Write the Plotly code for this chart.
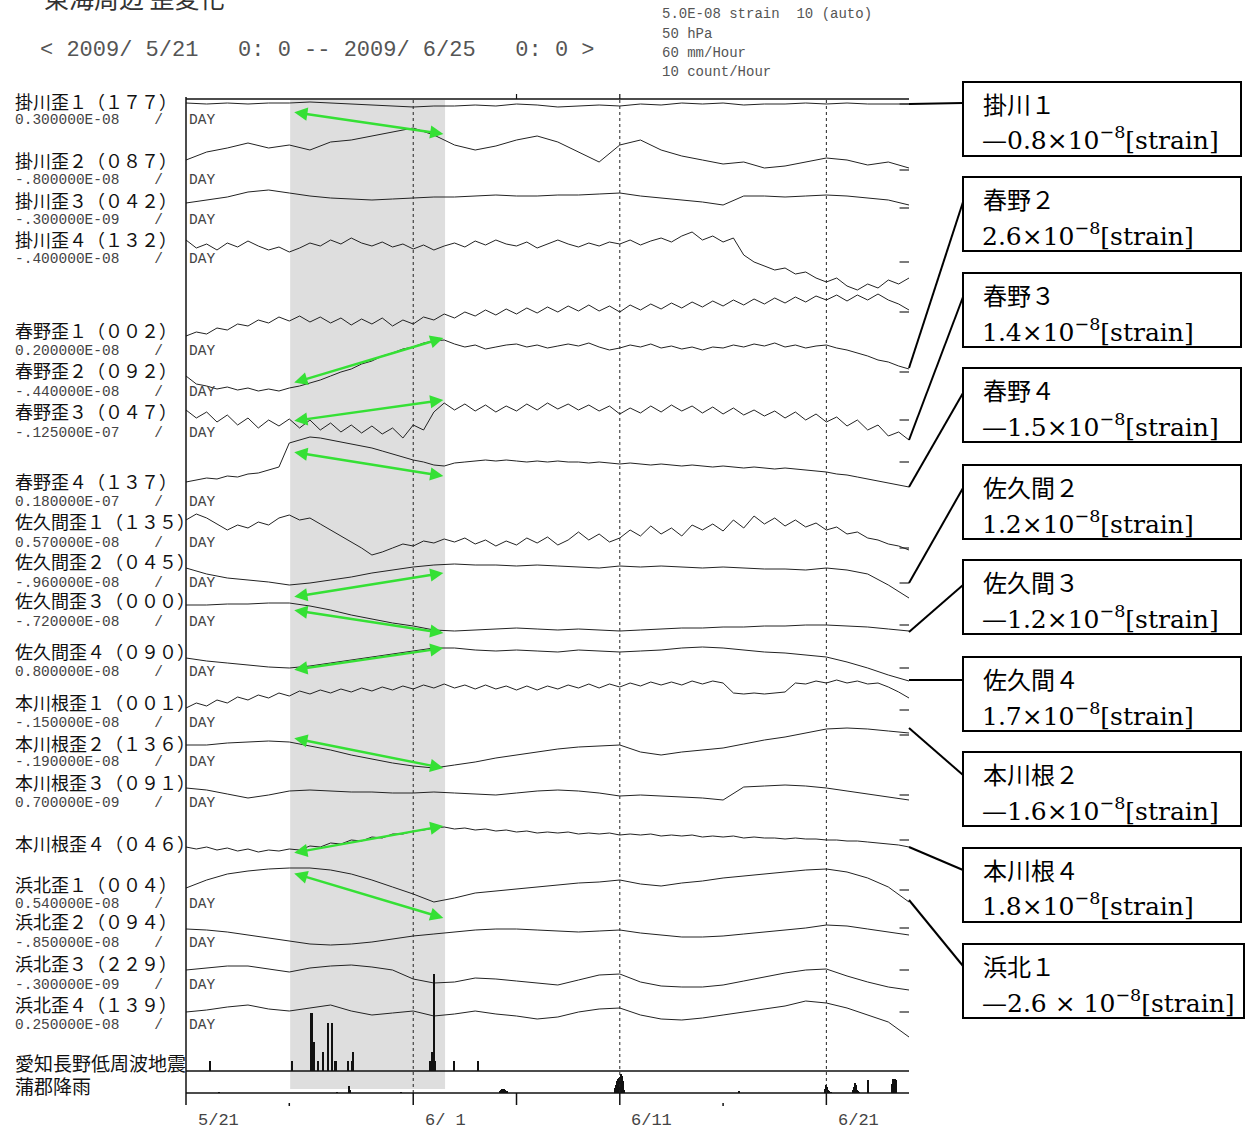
import pandas as pd
import plotly.graph_objects as go

W, H = 1247, 1133
X_LEFT, X_RIGHT = 186, 909          # plot area in px
START, END = "2009-05-21", "2009-06-25"

# ---------------------------------------------------------------------------
# Strain records (relative readings, one unit per display step, positive = down)
# ---------------------------------------------------------------------------
kakegawa1 = [0, 1, 0, 1, 0, 0, -1, 0, 1, 2, 3, 4, 3, 3, 2, 3, 1, 2, 4, 3, 2, 3, 1, 2, 0, 1, 0, 2, 1, 1,
             0, 1, 0, 1, 1, 1]
kakegawa2 = [0, -8, -12, -17, -12, -15, -10, -18, -20, -24, -28, -32, -25, -15, -10, -14, -20, -24, -18, -8,
             2, -15, -20, -10, -4, 0, 4, 2, 8, 6, 2, -2, 0, 5, 2, 8]
kakegawa3 = [0, -3, -6, -11, -13, -10, -7, -5, -4, -3, -4, -5, -6, -6, -7, -8, -7, -7, -8, -8,
             -9, -10, -7, -5, -3, -1, 2, -7, -7, -6, -7, -8, -7, -5, -3, 2]
kakegawa4 = [0, 8, 4, 10, 3, 7, 1, 6, 10, 7, 12, 8, 3, 6, 0, 4, -2, 3, 6, 2, 7, 4, 9, 5, 10, 6, 3, 7, 1, 5,
             0, 4, 6, 2, 8, 4, 0, 4, 7, 3, 6, 2, 4, 0, 5, 1, -2, 2, -4, -8, 0, -4, 2, -2, 15, 22, 26, 30,
             28, 34, 32, 38, 42, 38, 46, 50, 44, 48, 40, 44, 38]
haruno1 = [1, -3, -1, -7, -5, -11, -9, -15, -12, -18, -14, -19, -13, -18, -12, -17, -10, -16, -11, -17,
           -9, -15, -11, -18, -15, -21, -17, -23, -19, -25, -20, -26, -21, -27, -22, -28, -23, -29, -24, -30,
           -24, -29, -23, -30, -25, -31, -26, -32, -27, -33, -28, -34, -29, -35, -30, -36, -31, -37, -32, -38,
           -33, -39, -35, -40, -34, -40, -35, -41, -35, -31, -25]
haruno2 = [-2, 6, 8, 11, 9, 12, 10, 13, 11, 13, 10, 8, 5, 2, -2, -6, -9, -14, -17, -22,
           -25, -29, -31, -35, -37, -38, -34, -31, -33, -29, -31, -33, -34, -31, -33, -30, -32, -34, -32, -35,
           -31, -28, -30, -33, -31, -34, -30, -32, -29, -31, -28, -31, -30, -33, -31, -34, -32, -35, -31, -33,
           -30, -32, -33, -30, -28, -25, -22, -18, -16, -12, -9]
haruno3 = [-2, 6, 0, 10, 3, 13, 6, 16, 8, 14, 7, 16, 8, 18, 11, 20, 13, 21, 14, 22,
           16, 26, 13, 18, 0, -9, -2, -8, -1, -7, 0, -6, -1, -8, -2, -9, -3, -8, -2, -7,
           -1, -6, 2, -4, 1, -6, 0, -7, -1, -6, 1, -5, 2, -4, 3, -2, 4, -1, 6, 0,
           8, 2, 10, 5, 14, 8, 18, 13, 24, 20, 28]
haruno4 = [0, -2, -4, -3, -6, -5, -8, -9, -12, -15, -39, -42, -45, -44, -42, -40, -38, -36, -34, -31,
           -28, -25, -22, -20, -17, -16, -19, -20, -21, -22, -21, -22, -21, -20, -21, -20, -21, -20, -20, -19,
           -20, -19, -18, -19, -18, -17, -18, -17, -16, -17, -16, -15, -16, -15, -14, -15, -14, -13, -14, -13,
           -12, -11, -10, -8, -7, -5, -3, -1, 1, 3, 5]
sakuma1 = [0, -6, -2, 4, 10, 5, 8, 2, 5, -2, -5, 0, -2, 4, 10, 16, 22, 28, 35, 32,
           28, 24, 26, 21, 23, 19, 22, 18, 24, 20, 26, 21, 25, 18, 23, 17, 25, 20, 12, 20,
           14, 22, 18, 10, 16, 6, 14, 8, 16, 5, 10, 4, 11, 0, 8, -4, 4, -2, 6, 0,
           7, 3, 10, 7, 14, 12, 18, 20, 24, 26, 30]
sakuma2 = [0, 6, 10, 12, 14, 17, 15, 12, 9, 5, 2, -1, -3, -4, -3, -3, -2, -3, -2, -1,
           0, -2, -1, -2, -1, 0, -1, 0, 1, 1, 2, 0, 2, 6, 17, 30]
sakuma3 = [0, 0, -1, -1, -2, -2, 1, 5, 10, 14, 18, 21, 25, 26, 25, 24, 23, 24, 25, 24,
           25, 26, 25, 24, 23, 23, 22, 22, 21, 21, 20, 20, 21, 22, 24, 26]
sakuma4 = [0, 3, 5, 7, 9, 10, 8, 5, 2, -1, -4, -7, -10, -10, -8, -7, -8, -7, -6, -8,
           -7, -6, -7, -8, -10, -11, -10, -8, -6, -5, -3, -1, 4, 10, 17, 23]
honkawane1 = [0, -5, -2, -8, -5, -11, -8, -13, -10, -15, -12, -17, -14, -18, -15, -19, -16, -20, -17, -21,
              -18, -22, -19, -23, -20, -24, -20, -23, -19, -23, -19, -22, -18, -22, -18, -22, -19, -23, -20, -24,
              -20, -24, -21, -25, -22, -26, -23, -26, -23, -27, -24, -27, -25, -15, -14, -15, -14, -15, -16, -25,
              -24, -27, -25, -28, -25, -27, -24, -25, -21, -16, -10]
honkawane2 = [0, 0, -2, -3, -4, -3, 1, 5, 10, 14, 18, 21, 23, 20, 17, 13, 10, 7, 4, 2,
              1, 0, 7, 10, 7, 5, 3, -1, -5, -8, -12, -16, -17, -16, -14, -12]
honkawane3 = [0, 2, 6, 10, 7, 3, 2, 3, 4, 4, 5, 5, 4, 5, 6, 7, 5, 3, 2, 3,
              5, 8, 7, 8, 9, 10, 12, -1, -2, -3, -2, 0, 3, 6, 9, 12]
honkawane4 = [0, 2, 0, 3, 1, 4, 2, 5, 3, 4, 2, 3, -1, 0, -4, -3, -7, -6, -10, -9,
              -13, -13, -16, -17, -19, -20, -18, -19, -17, -18, -16, -17, -15, -16, -14, -15, -14, -15, -13, -14,
              -13, -14, -12, -13, -12, -13, -11, -12, -11, -12, -10, -11, -10, -11, -9, -10, -9, -9, -8, -9,
              -8, -8, -7, -7, -6, -6, -5, -4, -3, -2, 0]
hamakita1 = [0, -8, -14, -17, -19, -20, -20, -18, -14, -8, -1, 6, 14, 10, 5, 3, 1, -1, -3, -5,
             -6, -8, -4, -2, -5, -7, -10, -12, -14, -16, -18, -19, -16, -10, -1, 14]
hamakita2 = [0, 1, 3, 6, 9, 12, 15, 16, 15, 13, 10, 7, 5, 3, 1, 0, 0, 1, 2, 3,
             2, 1, 4, 6, 8, 8, 7, 5, 3, 1, -1, -4, -3, 0, 3, 6]
hamakita3 = [0, -2, -4, -4, -1, 2, -2, -4, -5, -3, 0, 9, 13, 12, 8, 9, 11, 13, 15, 10,
             5, 4, 12, 16, 17, 17, 15, 11, 7, 3, 0, -1, 6, 12, 17, 20]
hamakita4 = [0, -2, -5, -7, -3, -1, -4, -7, -1, 3, 1, -1, 4, 2, -1, 2, 4, 7, 5, 0,
             -3, -4, 3, 7, 8, 6, 3, 0, -3, -6, -11, -9, -4, 3, 10, 25]

series = [kakegawa1, kakegawa2, kakegawa3, kakegawa4,
          haruno1, haruno2, haruno3, haruno4,
          sakuma1, sakuma2, sakuma3, sakuma4,
          honkawane1, honkawane2, honkawane3, honkawane4,
          hamakita1, hamakita2, hamakita3, hamakita4]

channel_names = ["掛川歪１（１７７）", "掛川歪２（０８７）", "掛川歪３（０４２）", "掛川歪４（１３２）",
                 "春野歪１（００２）", "春野歪２（０９２）", "春野歪３（０４７）", "春野歪４（１３７）",
                 "佐久間歪１（１３５）", "佐久間歪２（０４５）", "佐久間歪３（０００）", "佐久間歪４（０９０）",
                 "本川根歪１（００１）", "本川根歪２（１３６）", "本川根歪３（０９１）", "本川根歪４（０４６）",
                 "浜北歪１（００４）", "浜北歪２（０９４）", "浜北歪３（２２９）", "浜北歪４（１３９）"]
trend_rates = ["0.300000E-08", "-.800000E-08", "-.300000E-09", "-.400000E-08",
               "0.200000E-08", "-.440000E-08", "-.125000E-07", "0.180000E-07",
               "0.570000E-08", "-.960000E-08", "-.720000E-08", "0.800000E-08",
               "-.150000E-08", "-.190000E-08", "0.700000E-09", "",
               "0.540000E-08", "-.850000E-08", "-.300000E-09", "0.250000E-08"]
# reference level marks at the right edge of each record
ref_levels = [1, 10, 5, 22, -23, -6, 8, -20, 28, 15, 20, 10, 2, -10, 7, -7, 2, -1, 0, 0]

# Low-frequency tremor counts (count/hour)
quake_time = ["2009-05-22 04:00", "2009-05-26 03:00", "2009-05-27 01:00", "2009-05-27 02:00",
              "2009-05-27 03:00", "2009-05-27 05:00", "2009-05-27 10:00", "2009-05-27 15:00",
              "2009-05-27 16:00", "2009-05-27 21:00", "2009-05-28 02:00", "2009-05-28 05:00",
              "2009-05-28 06:00", "2009-05-28 21:00", "2009-05-29 01:00", "2009-05-29 02:00",
              "2009-06-01 20:00", "2009-06-01 22:00", "2009-06-02 00:00", "2009-06-02 01:00",
              "2009-06-03 00:00", "2009-06-04 04:00"]
quake_count = [1, 1, 3, 6, 6, 3, 1, 2, 1, 5, 5, 1, 1, 1, 1, 2, 1, 2, 10, 1, 1, 1]

# Hourly rainfall at Gamagori (mm/hour)
rain_time = ["2009-05-22 14:00", "2009-05-28 07:00", "2009-05-28 21:00", "2009-05-28 22:00",
             "2009-05-28 23:00", "2009-05-31 10:00",
             "2009-06-05 05:00", "2009-06-05 06:00", "2009-06-05 07:00", "2009-06-05 08:00",
             "2009-06-05 09:00", "2009-06-05 10:00", "2009-06-05 11:00", "2009-06-05 12:00",
             "2009-06-05 13:00",
             "2009-06-10 18:00", "2009-06-10 19:00", "2009-06-10 20:00", "2009-06-10 21:00",
             "2009-06-10 22:00", "2009-06-10 23:00", "2009-06-11 00:00", "2009-06-11 01:00",
             "2009-06-11 02:00", "2009-06-11 03:00", "2009-06-11 04:00", "2009-06-11 05:00",
             "2009-06-16 19:00",
             "2009-06-20 23:00", "2009-06-21 00:00", "2009-06-21 01:00", "2009-06-21 02:00",
             "2009-06-21 03:00", "2009-06-21 04:00", "2009-06-21 05:00",
             "2009-06-22 07:00", "2009-06-22 08:00", "2009-06-22 09:00", "2009-06-22 10:00",
             "2009-06-22 11:00", "2009-06-22 12:00", "2009-06-22 13:00", "2009-06-22 14:00",
             "2009-06-23 00:00",
             "2009-06-24 04:00", "2009-06-24 05:00", "2009-06-24 06:00", "2009-06-24 07:00",
             "2009-06-24 08:00", "2009-06-24 09:00"]
rain_mm = [1, 1, 7, 3, 2, 1,
           2, 3, 4, 4, 4, 3, 3, 2, 2,
           3, 5, 8, 12, 14, 15, 16, 18, 19, 17, 12, 3,
           2,
           4, 8, 6, 3, 2, 1, 1,
           3, 6, 10, 8, 5, 3, 2, 1,
           13,
           9, 13, 14, 14, 14, 13]

# Strain changes over the tremor episode (×1e-8 strain)
change_names = ["掛川１", "春野２", "春野３", "春野４", "佐久間２", "佐久間３", "佐久間４", "本川根２", "本川根４", "浜北１"]
change_values = [-0.8, 2.6, 1.4, -1.5, 1.2, -1.2, 1.7, -1.6, 1.8, -2.6]

# ---------------------------------------------------------------------------
# Layout parameters (pixel positions)
# ---------------------------------------------------------------------------
centers = [103, 160, 203, 240, 335, 378, 412, 482, 520, 568, 605, 658, 708, 745, 788, 847, 888, 929, 970, 1012]
name_y = [101, 160, 200, 239, 330, 370, 411, 481, 521, 561, 600, 651, 702, 743, 782, 843, 884, 921, 963, 1004]
rate_y = [120, 180, 220, 259, 351, 392, 433, 502, 543, 583, 622, 672, 723, 762, 803, 0, 904, 943, 985, 1025]
HALF = 60

change_trace = [0, 5, 6, 7, 9, 10, 11, 13, 15, 16]
change_start = [9, 5, 9, -30, 29, 5, 12, -7, 6, -15]
change_gain = [27.5, 17.3, 15.0, 16.0, 20.0, 19.2, 12.9, 18.8, 15.0, 17.3]
episode_from, episode_to = "2009-05-26 04:00", "2009-06-02 11:00"

box_top = [82, 177, 273, 368, 465, 560, 657, 752, 848, 944]
box_attach = [103, 202, 297, 393, 488, 585, 680, 775, 870, 966]
trace_end = [104, 368, 440, 487, 583, 632, 680, 728, 847, 900]
BOX_LEFT, BOX_RIGHT, BOX_H = 963, 1241, 74


def py(p):
    return 1 - p / H


def pxf(p):
    return p / W


fig = go.Figure()
layout_axes = {}
for i, (vals, yc) in enumerate(zip(series, centers), start=1):
    key = "yaxis" if i == 1 else f"yaxis{i}"
    ref = "y" if i == 1 else f"y{i}"
    layout_axes[key] = dict(domain=[py(yc + HALF), py(yc - HALF)], range=[HALF, -HALF],
                            visible=False, anchor="x", fixedrange=True)
    xs = pd.date_range(START, END, periods=len(vals))
    fig.add_trace(go.Scatter(x=xs, y=vals, mode="lines", xaxis="x", yaxis=ref,
                             line=dict(color="#222", width=1),
                             hoverinfo="skip", showlegend=False))
    fig.add_trace(go.Scatter(x=["2009-06-24 13:00", END], y=[ref_levels[i - 1]] * 2,
                             mode="lines", xaxis="x", yaxis=ref,
                             line=dict(color="#222", width=1.2),
                             hoverinfo="skip", showlegend=False))

# tremor counts and rainfall panels
layout_axes["yaxis21"] = dict(domain=[py(1071), py(951)], range=[0, 12.4], visible=False,
                              anchor="x", fixedrange=True)
layout_axes["yaxis22"] = dict(domain=[py(1093), py(1071)], range=[0, 22], visible=False,
                              anchor="x", fixedrange=True)
fig.add_trace(go.Bar(x=quake_time, y=quake_count, xaxis="x", yaxis="y21",
                     width=3.6e6 * 1.8, marker=dict(color="#111", line=dict(width=0)),
                     hoverinfo="skip", showlegend=False))
fig.add_trace(go.Bar(x=rain_time, y=rain_mm, xaxis="x", yaxis="y22",
                     width=3.6e6 * 1.25, marker=dict(color="#111", line=dict(width=0)),
                     hoverinfo="skip", showlegend=False))

shapes = []
# tremor episode shading
shapes.append(dict(type="rect", xref="x", yref="paper", x0="2009-05-26 01:00", x1="2009-06-02 13:00",
                   y0=py(1089), y1=py(100), fillcolor="#dedede", line=dict(width=0), layer="below"))
# frame lines
line_k = dict(color="#111", width=1.5)
shapes.append(dict(type="line", xref="paper", yref="paper", x0=pxf(X_LEFT), x1=pxf(X_LEFT),
                   y0=py(1105), y1=py(97), line=line_k))
for yy in (99, 1071, 1093):
    shapes.append(dict(type="line", xref="paper", yref="paper", x0=pxf(X_LEFT), x1=pxf(X_RIGHT),
                       y0=py(yy), y1=py(yy), line=line_k))
# dotted day markers
for d in ("2009-06-01", "2009-06-11", "2009-06-21"):
    shapes.append(dict(type="line", xref="x", yref="paper", x0=d, x1=d, y0=py(1093), y1=py(99),
                       line=dict(color="#222", width=1, dash="dot")))
# bottom ticks
for d in ("2009-06-01", "2009-06-06", "2009-06-11", "2009-06-21"):
    shapes.append(dict(type="line", xref="x", yref="paper", x0=d, x1=d, y0=py(1105), y1=py(1093),
                       line=dict(color="#111", width=1.5)))
for d in ("2009-05-26", "2009-06-16"):
    shapes.append(dict(type="line", xref="x", yref="paper", x0=d, x1=d, y0=py(1106), y1=py(1103),
                       line=dict(color="#111", width=1.5)))
# top ticks
for d in ("2009-06-06", "2009-06-11"):
    shapes.append(dict(type="line", xref="x", yref="paper", x0=d, x1=d, y0=py(99), y1=py(94),
                       line=dict(color="#111", width=1.2)))

# result boxes and leader lines
for k, top in enumerate(box_top):
    right = BOX_RIGHT + (3 if k == len(box_top) - 1 else 0)
    shapes.append(dict(type="rect", xref="paper", yref="paper", x0=pxf(BOX_LEFT), x1=pxf(right),
                       y0=py(top + BOX_H), y1=py(top), line=dict(color="#000", width=2),
                       fillcolor="rgba(0,0,0,0)"))
    shapes.append(dict(type="line", xref="paper", yref="paper", x0=pxf(X_RIGHT), x1=pxf(BOX_LEFT),
                       y0=py(trace_end[k]), y1=py(box_attach[k]), line=dict(color="#000", width=2)))

annotations = []
# title and period
annotations.append(dict(text="東海周辺 歪変化", x=pxf(42), y=py(-3), xref="paper", yref="paper",
                        xanchor="left", yanchor="middle", showarrow=False,
                        font=dict(family="Noto Sans CJK JP", size=25, color="#333")))
annotations.append(dict(text="< 2009/ 5/21   0: 0 -- 2009/ 6/25   0: 0 >", x=pxf(38), y=py(50),
                        xref="paper", yref="paper", xanchor="left", yanchor="middle", showarrow=False,
                        font=dict(family="Liberation Mono", size=22, color="#555")))
for txt, yy in zip(["5.0E-08 strain  10 (auto)", "50 hPa", "60 mm/Hour", "10 count/Hour"], [14, 34, 53, 72]):
    annotations.append(dict(text=txt, x=pxf(660), y=py(yy), xref="paper", yref="paper",
                            xanchor="left", yanchor="middle", showarrow=False,
                            font=dict(family="Liberation Mono", size=14, color="#555")))

# channel labels
for name, ny, rate, ry in zip(channel_names, name_y, trend_rates, rate_y):
    annotations.append(dict(text=name, x=pxf(13), y=py(ny), xref="paper", yref="paper",
                            xanchor="left", yanchor="middle", showarrow=False,
                            font=dict(family="Noto Sans CJK JP", size=18, color="#111")))
    if rate:
        annotations.append(dict(text=f"{rate:<12}    /   DAY", x=pxf(13), y=py(ry), xref="paper", yref="paper",
                                xanchor="left", yanchor="middle", showarrow=False,
                                font=dict(family="Liberation Mono", size=14.5, color="#444")))
for txt, yy in [("愛知長野低周波地震", 1062), ("蒲郡降雨", 1085)]:
    annotations.append(dict(text=txt, x=pxf(13), y=py(yy), xref="paper", yref="paper",
                            xanchor="left", yanchor="middle", showarrow=False,
                            font=dict(family="Noto Sans CJK JP", size=19, color="#111")))

# date labels
for d, txt in [("2009-05-21", "5/21"), ("2009-06-01", "6/ 1"), ("2009-06-11", "6/11"), ("2009-06-21", "6/21")]:
    annotations.append(dict(text=txt, x=d, y=py(1120), xref="x", yref="paper", xshift=32,
                            xanchor="center", yanchor="middle", showarrow=False,
                            font=dict(family="Liberation Mono", size=17, color="#444")))

# green change arrows, length set by the stated strain change
for k, ti in enumerate(change_trace):
    ref = "y" if ti == 0 else f"y{ti + 1}"
    v0 = change_start[k]
    v1 = v0 - change_values[k] * change_gain[k]
    annotations.append(dict(text="", x=episode_to, y=v1, xref="x", yref=ref,
                            ax=episode_from, ay=v0, axref="x", ayref=ref,
                            showarrow=True, arrowside="end+start", arrowhead=2, startarrowhead=2,
                            arrowsize=1.1, startarrowsize=1.1, arrowwidth=2.4,
                            arrowcolor="#35e035", standoff=0, startstandoff=0))

# box texts
for k, top in enumerate(box_top):
    val = change_values[k]
    sign = "—" if val < 0 else ""
    if k == len(box_top) - 1:
        body = f"{sign}{abs(val):.1f} × 10<sup>−8</sup>[strain]"
    else:
        body = f"{sign}{abs(val):.1f}×10<sup>−8</sup>[strain]"
    annotations.append(dict(text=change_names[k], x=pxf(981), y=py(top + 21), xref="paper", yref="paper",
                            xanchor="left", yanchor="middle", showarrow=False,
                            font=dict(family="Noto Sans CJK JP", size=24, color="#000")))
    annotations.append(dict(text=body, x=pxf(980), y=py(top + 57), xref="paper", yref="paper",
                            xanchor="left", yanchor="middle", showarrow=False,
                            font=dict(family="DejaVu Serif", size=25, color="#000")))

fig.update_layout(
    width=W, height=H, margin=dict(l=0, r=0, t=0, b=0),
    paper_bgcolor="white", plot_bgcolor="rgba(0,0,0,0)",
    xaxis=dict(domain=[pxf(X_LEFT), pxf(X_RIGHT)], range=[START, END], type="date",
               visible=False, fixedrange=True),
    shapes=shapes, annotations=annotations, showlegend=False, bargap=0,
    **layout_axes,
)

fig.write_html("out.html")
